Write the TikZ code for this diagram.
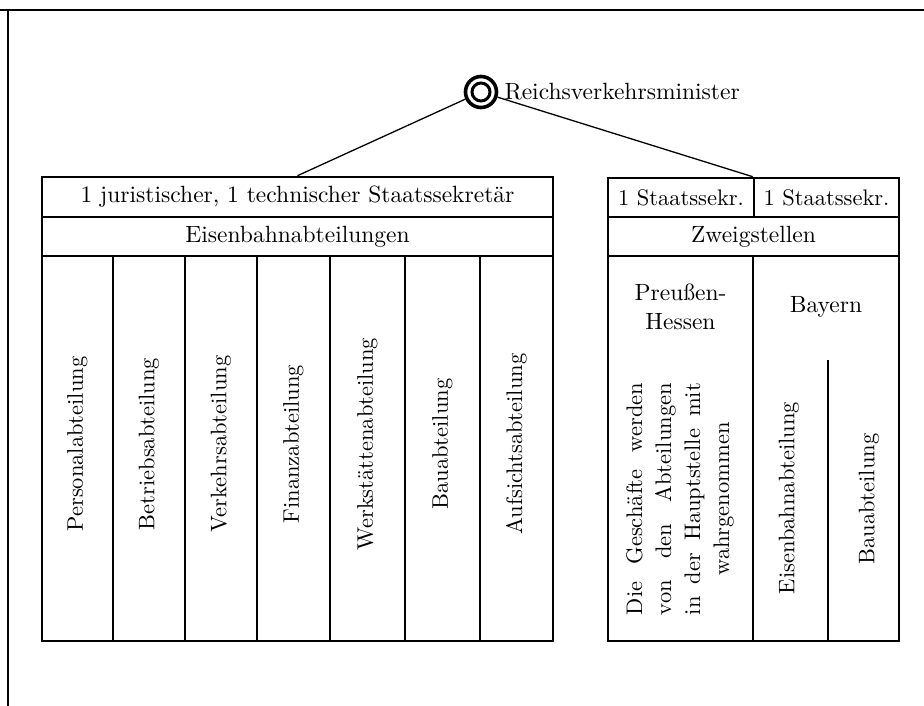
\documentclass[tikz,border=0pt]{standalone}
\usepackage{fontspec}
\setmainfont{lmroman10-regular}[Extension=.otf]
\usetikzlibrary{positioning}
\newcommand\fs{\fontsize{22.5}{29}\selectfont}
\newcommand\fh{\fontsize{23.5}{29}\selectfont}

\begin{document}
\begin{tikzpicture}[x=1pt, y=-1pt,
    cell/.style={draw, line width=2.6pt, inner sep=0pt, font=\fh},
    col/.style={cell, rotate=90, minimum width=385pt, font=\fs},
    lbl/.style={font=\fh, align=center, inner sep=0pt},
    vlbl/.style={font=\fs, align=center, inner sep=0pt, rotate=90},
    lnk/.style={line width=1.3pt},
]
\useasboundingbox (0,0) rectangle (924,706);

% === PAGE FRAME ===
\draw[line width=2.2pt] (0,10) -- (924,10);
\draw[line width=1.6pt] (8,10) -- (8,706);

% === MINISTER ===
\node[circle, draw, line width=3.6pt, minimum size=31pt, inner sep=0pt] (min) at (481,92) {};
\node[circle, draw, line width=3pt, minimum size=18pt, inner sep=0pt] at (min.center) {};
\node[lbl, right=6pt of min] (minlbl) {Reichsverkehrsminister};

% === LEFT BOX: Eisenbahnabteilungen ===
\node[cell, minimum width=511pt, minimum height=40pt] (sek) at (297.5,197) {1 juristischer, 1 technischer Staatssekret\"ar};
\node[cell, minimum width=511pt, minimum height=39pt] (eis) at (297.5,236.5) {Eisenbahnabteilungen};
\foreach \xa/\xb/\name [count=\i] in {
    42/113/Personalabteilung,
    113/185/Betriebsabteilung,
    185/257/Verkehrsabteilung,
    257/330/Finanzabteilung,
    330/405/Werkst\"attenabteilung,
    405/480/Bauabteilung,
    480/553/Aufsichtsabteilung%
}{
    \pgfmathsetmacro\w{\xb-\xa}
    \pgfmathsetmacro\xm{(\xa+\xb)/2}
    \node[col, minimum height=\w pt] (c\i) at (\xm,448.5) {};
    \node[vlbl] at (\xm,444) {\name};
}

% === RIGHT BOX: Zweigstellen ===
\node[cell, font=\fs, minimum width=146pt, minimum height=39pt] (zs1) at (681,197.5) {1 Staatssekr.};
\node[cell, font=\fs, minimum width=145pt, minimum height=39pt] (zs2) at (826.5,197.5) {1 Staatssekr.};
\node[cell, minimum width=291pt, minimum height=39pt] (zw) at (753.5,236.5) {Zweigstellen};
\node[cell, minimum width=145pt, minimum height=385pt] (ph) at (680.5,448.5) {};
\node[cell, minimum width=146pt, minimum height=385pt] (by) at (826,448.5) {};

% Preussen-Hessen
\node[lbl] (phlbl) at (680.5,307) {Preu\ss en-\\Hessen};
\node[vlbl] (phtxt) at (680,499) {%
    \makebox[232pt][s]{Die Gesch\"afte werden}\\
    \makebox[232pt][s]{von den Abteilungen}\\
    \makebox[232pt][s]{in der Hauptstelle mit}\\
    wahrgenommen};

% Bayern
\node[lbl] (bylbl) at (826,307) {Bayern};
\coordinate (bytop) at (828,360);
\draw[line width=2.4pt] (bytop) -- (bytop |- by.south);
\node[vlbl] (byeis) at (789,498) {Eisenbahnabteilung};
\node[vlbl] (bybau) at (869,499) {Bauabteilung};

% === CONNECTORS ===
\draw[lnk] (min) -- (sek.north);
\draw[lnk] (min) -- (zs2.north west);

\end{tikzpicture}
\end{document}
